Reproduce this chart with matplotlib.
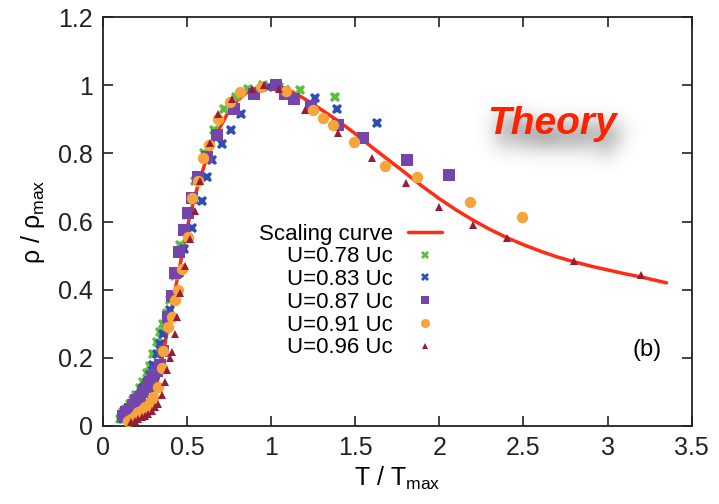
import numpy as np
import matplotlib
matplotlib.use("Agg")
import matplotlib.pyplot as plt
from matplotlib.figure import Figure
from matplotlib.backends.backend_agg import FigureCanvasAgg

plt.rcParams['font.family'] = ['Liberation Sans', 'DejaVu Sans']
plt.rcParams['mathtext.fontset'] = 'custom'
plt.rcParams['mathtext.rm'] = 'Liberation Sans'
plt.rcParams['mathtext.it'] = 'Liberation Sans:italic'

# ---- data -------------------------------------------------------------
T_curve = [0.15, 0.20, 0.25, 0.30, 0.33, 0.35, 0.38, 0.40, 0.43, 0.47, 0.50,
           0.55, 0.60, 0.65, 0.70, 0.75, 0.80, 0.85, 0.90, 0.95, 1.00, 1.10,
           1.20, 1.30, 1.40, 1.50, 1.60, 1.70, 1.80, 1.90, 2.00, 2.10, 2.20,
           2.30, 2.40, 2.50, 2.60, 2.70, 2.80, 2.90, 3.00, 3.10, 3.20, 3.35]
rho_curve = [0.01, 0.03, 0.06, 0.10, 0.14, 0.19, 0.27, 0.32, 0.40, 0.50, 0.58,
             0.68, 0.76, 0.83, 0.88, 0.925, 0.955, 0.977, 0.99, 0.998, 1.00, 0.988,
             0.96, 0.928, 0.895, 0.858, 0.818, 0.78, 0.742, 0.703, 0.667, 0.634,
             0.604, 0.577, 0.553, 0.532, 0.513, 0.496, 0.482, 0.469, 0.458, 0.447,
             0.437, 0.42]

T_078 = [0.10, 0.12, 0.14, 0.16, 0.18, 0.20, 0.22, 0.24, 0.26, 0.28, 0.30, 0.32,
         0.34, 0.36, 0.38, 0.40, 0.43, 0.46, 0.50, 0.55, 0.60, 0.66, 0.72, 0.79,
         0.86, 0.95, 1.05, 1.17, 1.38]
rho_078 = [0.02, 0.04, 0.05, 0.065, 0.075, 0.09, 0.11, 0.13, 0.155, 0.175, 0.21,
           0.245, 0.275, 0.30, 0.33, 0.37, 0.44, 0.53, 0.62, 0.72, 0.80, 0.87,
           0.93, 0.965, 0.99, 1.0, 0.995, 0.985, 0.965]

T_083 = [0.12, 0.14, 0.16, 0.18, 0.20, 0.22, 0.24, 0.26, 0.28, 0.30, 0.32, 0.34,
         0.36, 0.38, 0.40, 0.42, 0.45, 0.48, 0.53, 0.59, 0.62, 0.65, 0.71, 0.76,
         0.82, 0.90, 0.98, 1.08, 1.26, 1.39, 1.63]
rho_083 = [0.02, 0.035, 0.045, 0.06, 0.075, 0.09, 0.11, 0.13, 0.15, 0.18, 0.21,
           0.24, 0.27, 0.30, 0.34, 0.38, 0.45, 0.52, 0.58, 0.66, 0.73, 0.78, 0.827,
           0.87, 0.915, 0.97, 0.995, 0.985, 0.962, 0.93, 0.89]

T_087 = [0.12, 0.14, 0.16, 0.18, 0.20, 0.22, 0.24, 0.26, 0.28, 0.30, 0.32, 0.34,
         0.36, 0.39, 0.41, 0.43, 0.45, 0.48, 0.505, 0.53, 0.565, 0.62, 0.68, 0.78,
         0.90, 1.03, 1.08, 1.135, 1.24, 1.40, 1.545, 1.81, 2.06]
rho_087 = [0.03, 0.04, 0.05, 0.06, 0.075, 0.085, 0.10, 0.115, 0.13, 0.145, 0.16,
           0.18, 0.22, 0.32, 0.38, 0.45, 0.51, 0.575, 0.625, 0.67, 0.73, 0.79,
           0.853, 0.93, 0.973, 1.0, 0.975, 0.959, 0.94, 0.883, 0.845, 0.78, 0.736]

T_091 = [0.15, 0.17, 0.19, 0.21, 0.23, 0.25, 0.28, 0.30, 0.33, 0.35, 0.36, 0.39,
         0.41, 0.43, 0.445, 0.47, 0.505, 0.53, 0.565, 0.595, 0.63, 0.685, 0.755,
         0.815, 0.94, 1.09, 1.25, 1.31, 1.37, 1.49, 1.675, 1.87, 2.18, 2.49]
rho_091 = [0.015, 0.02, 0.03, 0.04, 0.045, 0.055, 0.067, 0.085, 0.115, 0.17, 0.22,
           0.29, 0.32, 0.37, 0.40, 0.46, 0.555, 0.67, 0.72, 0.785, 0.824, 0.90,
           0.95, 0.98, 0.995, 0.982, 0.927, 0.905, 0.883, 0.833, 0.763, 0.73,
           0.657, 0.613]

T_096 = [0.17, 0.19, 0.21, 0.23, 0.25, 0.27, 0.29, 0.31, 0.33, 0.35, 0.37, 0.38,
         0.40, 0.41, 0.43, 0.44, 0.46, 0.49, 0.52, 0.55, 0.58, 0.635, 0.685, 0.77,
         0.885, 0.96, 1.05, 1.20, 1.40, 1.60, 1.80, 2.00, 2.20, 2.40, 2.80, 3.20]
rho_096 = [0.01, 0.015, 0.02, 0.025, 0.03, 0.035, 0.045, 0.055, 0.065, 0.09, 0.13,
           0.164, 0.20, 0.217, 0.27, 0.32, 0.39, 0.47, 0.55, 0.63, 0.72, 0.83,
           0.917, 0.96, 0.99, 1.0, 0.99, 0.927, 0.86, 0.785, 0.712, 0.643, 0.59,
           0.551, 0.485, 0.443]

x_ticks = [0, 0.5, 1, 1.5, 2, 2.5, 3, 3.5]
y_ticks = [0, 0.2, 0.4, 0.6, 0.8, 1.0, 1.2]
x_ticklabels = ['0', '0.5', '1', '1.5', '2', '2.5', '3', '3.5']
y_ticklabels = ['0', '0.2', '0.4', '0.6', '0.8', '1', '1.2']

# ---- figure -----------------------------------------------------------
fig = plt.figure(figsize=(7.19, 5.04), dpi=100)
fig.patch.set_facecolor('white')
ax = fig.add_axes([0.143, 0.155, 0.819, 0.811])
ax.patch.set_visible(False)

ax.plot(T_curve, rho_curve, color='#ff2b14', lw=2.5, solid_capstyle='round',
        solid_joinstyle='round', label='Scaling curve', zorder=2)
ax.plot(T_078, rho_078, ls='none', marker='X', ms=7.5, mew=0,
        color='#5cbf3c', label='U=0.78 Uc', zorder=3)
ax.plot(T_083, rho_083, ls='none', marker='X', ms=7.5, mew=0,
        color='#2d4fb2', label='U=0.83 Uc', zorder=3)
ax.plot(T_087, rho_087, ls='none', marker='s', ms=8, mew=0,
        color='#7445aa', label='U=0.87 Uc', zorder=3)
ax.plot(T_091, rho_091, ls='none', marker='o', ms=8.2, mew=0,
        color='#f7a43a', label='U=0.91 Uc', zorder=3)
ax.plot(T_096, rho_096, ls='none', marker='^', ms=5.5, mew=0,
        color='#981c36', label='U=0.96 Uc', zorder=3)

ax.set_xlim(0, 3.5)
ax.set_ylim(0, 1.2)
ax.set_xticks(x_ticks)
ax.set_xticklabels(x_ticklabels)
ax.set_yticks(y_ticks)
ax.set_yticklabels(y_ticklabels)
ax.tick_params(direction='in', length=7, width=1.2, labelsize=18,
               top=True, right=True, pad=7, colors='#222222')
for sp in ax.spines.values():
    sp.set_linewidth(1.3)
    sp.set_color('#222222')

ax.set_xlabel('T / T$_{\\rm max}$', fontsize=18, labelpad=4)
ax.set_ylabel('\u03c1 / \u03c1$_{\\rm max}$', fontsize=18, labelpad=8)

leg = ax.legend(loc='upper right', bbox_to_anchor=(0.576, 0.495),
                frameon=False, markerfirst=False, fontsize=16,
                handlelength=1.55, handletextpad=0.65, labelspacing=0.08,
                borderpad=0, borderaxespad=0, markerscale=0.8)

ax.text(0.925, 0.185, '(b)', transform=ax.transAxes, fontsize=17,
        ha='center', va='center')

# ---- "Theory" caption with a soft drop shadow ---------------------------
cap_xy = (0.768, 0.753)
cap_kw = dict(fontsize=28, fontweight='bold', fontstyle='italic',
              ha='center', va='center')

sfig = Figure(figsize=fig.get_size_inches(), dpi=fig.dpi)
scan = FigureCanvasAgg(sfig)
sfig.patch.set_alpha(0)
sfig.text(*cap_xy, 'Theory', color='black', **cap_kw)
scan.draw()
mask = np.asarray(scan.buffer_rgba())[..., 3].astype(float) / 255.0
sig = 10.0
r = np.arange(-int(3 * sig), int(3 * sig) + 1)
kern = np.exp(-r ** 2 / (2 * sig ** 2))
kern /= kern.sum()
mask = np.apply_along_axis(lambda v: np.convolve(v, kern, mode='same'), 0, mask)
mask = np.apply_along_axis(lambda v: np.convolve(v, kern, mode='same'), 1, mask)
mask = np.roll(mask, (12, 4), axis=(0, 1))
shadow = np.zeros(mask.shape + (4,))
shadow[..., :3] = 0.35
shadow[..., 3] = np.clip(mask * 1.15, 0, 1)
fig.figimage(shadow, xo=0, yo=0, origin='upper', zorder=-1)

fig.text(*cap_xy, 'Theory', color='#ff2200', zorder=10, **cap_kw)

fig.savefig('out.png', dpi=100)
